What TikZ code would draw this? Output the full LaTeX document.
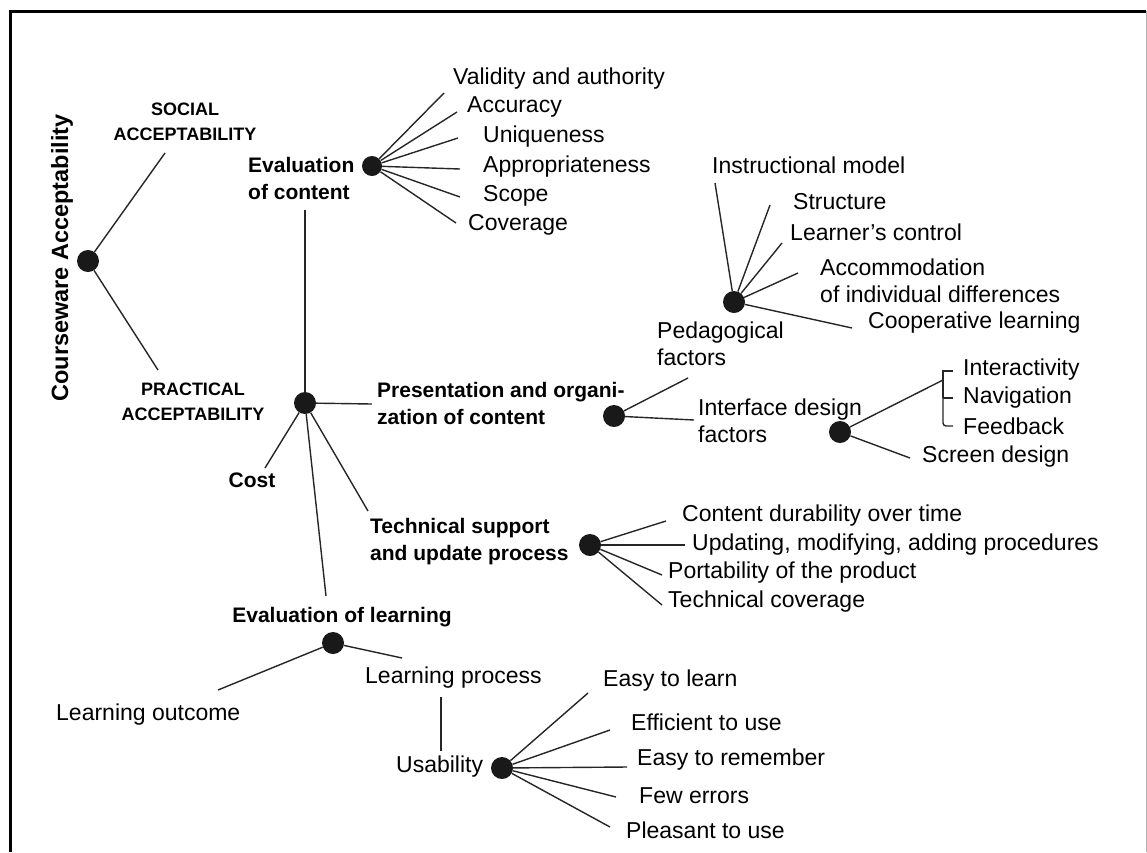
\documentclass[tikz,border=0pt]{standalone}
\usepackage{fontspec}
\setmainfont{Liberation Sans}
\begin{document}
\begin{tikzpicture}[x=1pt,y=-1pt,
  dot/.style={circle,fill=black!90,inner sep=0pt,minimum size=22pt},
  smalldot/.style={dot,minimum size=20pt},
  leaf/.style={anchor=west,inner sep=0pt,align=left,font=\fontsize{23}{27}\selectfont},
  topic/.style={anchor=west,inner sep=0pt,align=left,font=\fontsize{21}{27}\selectfont\bfseries},
  caps/.style={inner sep=0pt,align=center,font=\fontsize{18}{25}\selectfont\bfseries},
  link/.style={line width=1.4pt,black!85}]
\useasboundingbox (0,0) rectangle (1147,852);

% frame
\draw[line width=3pt] (10,852) -- (10,11) -- (1146,11);
\draw[line width=1pt,black!30] (1146,11) -- (1146,852);

% root
\node[rotate=90,inner sep=0pt,font=\fontsize{23.5}{28}\selectfont\bfseries] (title) at (62,258) {Courseware Acceptability};
\node[dot] (root) at (88,261) {};
\node[caps] (social) at (185,122) {SOCIAL\\ACCEPTABILITY};
\node[caps] (practical) at (193,402) {PRACTICAL\\ACCEPTABILITY};
\coordinate (socialEnd) at (165,153);
\coordinate (practicalEnd) at (158,370);
\draw[link] (root) -- (socialEnd);
\draw[link] (root) -- (practicalEnd);

% practical acceptability hub
\node[dot] (pr) at (305,403) {};

% evaluation of content
\node[topic] (evc) at (248,178.5) {Evaluation\\of content};
\node[smalldot] (evcd) at (372,166) {};
\coordinate (evcFoot) at (305,210);
\draw[link] (pr) -- (evcFoot);

\node[leaf] (validity) at (453,79) {Validity and authority};
\node[leaf] (accuracy) at (467,107) {Accuracy};
\node[leaf] (unique) at (483,137) {Uniqueness};
\node[leaf] (approp) at (483,167) {Appropriateness};
\node[leaf] (scope) at (483,196) {Scope};
\node[leaf] (coverage) at (468,225) {Coverage};
\coordinate (validityEnd) at (444,93);
\coordinate (accuracyEnd) at (457,112);
\coordinate (uniqueEnd) at (458,138);
\coordinate (appropEnd) at (460,169);
\coordinate (scopeEnd) at (460,197);
\coordinate (coverageEnd) at (456,223);
\foreach \e in {validityEnd,accuracyEnd,uniqueEnd,appropEnd,scopeEnd,coverageEnd}
  \draw[link] (evcd) -- (\e);

% presentation and organization of content
\node[topic] (pres) at (377,403.5) {Presentation and organi-\\zation of content};
\coordinate (presStart) at (372,404);
\draw[link] (pr) -- (presStart);
\node[dot] (presd) at (614,416) {};
\node[leaf] (pedag) at (657,344) {Pedagogical\\factors};
\node[leaf] (iface) at (698,420.5) {Interface design\\factors};
\coordinate (pedagEnd) at (688,378);
\coordinate (ifaceEnd) at (694,420);
\draw[link] (presd) -- (pedagEnd);
\draw[link] (presd) -- (ifaceEnd);

% pedagogical factors
\node[dot] (pedd) at (734,302) {};
\node[leaf] (instr) at (712,165) {Instructional model};
\node[leaf] (struct) at (793,202) {Structure};
\node[leaf] (lcontrol) at (790,232) {Learner's control};
\node[leaf] (accom) at (820,280.5) {Accommodation\\of individual differences};
\node[leaf] (coop) at (868,323) {Cooperative learning};
\coordinate (instrEnd) at (715,183);
\coordinate (structEnd) at (770,205);
\coordinate (lcontrolEnd) at (782,243);
\coordinate (accomEnd) at (798,273);
\coordinate (coopEnd) at (852,328);
\foreach \e in {instrEnd,structEnd,lcontrolEnd,accomEnd,coopEnd}
  \draw[link] (pedd) -- (\e);

% interface design factors
\node[dot] (ifd) at (840,432) {};
\node[leaf] (interact) at (963,370) {Interactivity};
\node[leaf] (navig) at (963,398) {Navigation};
\node[leaf] (feedb) at (963,426) {Feedback};
\node[leaf] (screen) at (922,457) {Screen design};
\coordinate (brTop) at (943,371);
\coordinate (brJoin) at (943,380);
\coordinate (brMid) at (943,398);
\coordinate (brBot) at (943,426);
\coordinate (screenEnd) at (910,458);
\draw[link] (ifd) -- (brJoin);
\draw[link] ([xshift=-10pt]interact.west |- brTop) -- (brTop) -- (brMid);
\draw[link,rounded corners=3pt] (brMid) -- (brBot) -- ([xshift=-10pt]feedb.west |- brBot);
\draw[link] (brMid) -- ([xshift=-10pt]navig.west |- brMid);
\draw[link] (ifd) -- (screenEnd);

% cost
\node[inner sep=0pt,font=\fontsize{21}{27}\selectfont\bfseries] (cost) at (252,480) {Cost};
\coordinate (costEnd) at (265,468);
\draw[link] (pr) -- (costEnd);

% technical support and update process
\node[topic] (tech) at (370,541.5) {Technical support\\and update process};
\coordinate (techStart) at (368,511);
\draw[link] (pr) -- (techStart);
\node[dot] (techd) at (590,545) {};
\node[leaf] (durab) at (682,516) {Content durability over time};
\node[leaf] (updat) at (692,545) {Updating, modifying, adding procedures};
\node[leaf] (port) at (668,573) {Portability of the product};
\node[leaf] (tcover) at (668,602) {Technical coverage};
\coordinate (durabEnd) at (666,521);
\coordinate (updatEnd) at (685,545);
\coordinate (portEnd) at (662,575);
\coordinate (tcoverEnd) at (662,605);
\foreach \e in {durabEnd,updatEnd,portEnd,tcoverEnd}
  \draw[link] (techd) -- (\e);

% evaluation of learning
\node[inner sep=0pt,font=\fontsize{21}{27}\selectfont\bfseries] (evl) at (342,617) {Evaluation of learning};
\coordinate (evlTop) at (326,596);
\draw[link] (pr) -- (evlTop);
\node[dot] (evld) at (333,643) {};
\node[leaf] (outcome) at (56,715) {Learning outcome};
\node[leaf] (lproc) at (365,678) {Learning process};
\coordinate (outcomeEnd) at (218,690);
\coordinate (lprocEnd) at (402,658);
\draw[link] (evld) -- (outcomeEnd);
\draw[link] (evld) -- (lprocEnd);

% usability
\node[leaf] (usab) at (396,767) {Usability};
\coordinate (lprocFoot) at (441,697);
\coordinate (usabTop) at (441,751);
\draw[link] (lprocFoot) -- (usabTop);
\node[dot] (ud) at (502,768) {};
\node[leaf] (elearn) at (603,681) {Easy to learn};
\node[leaf] (effic) at (631,722) {Efficient to use};
\node[leaf] (eremem) at (637,760) {Easy to remember};
\node[leaf] (ferr) at (639,796) {Few errors};
\node[leaf] (pleas) at (626,830) {Pleasant to use};
\coordinate (elearnEnd) at (588,693);
\coordinate (efficEnd) at (610,730);
\coordinate (erememEnd) at (627,767);
\coordinate (ferrEnd) at (616,797);
\coordinate (pleasEnd) at (610,827);
\foreach \e in {elearnEnd,efficEnd,erememEnd,ferrEnd,pleasEnd}
  \draw[link] (ud) -- (\e);
\end{tikzpicture}
\end{document}
